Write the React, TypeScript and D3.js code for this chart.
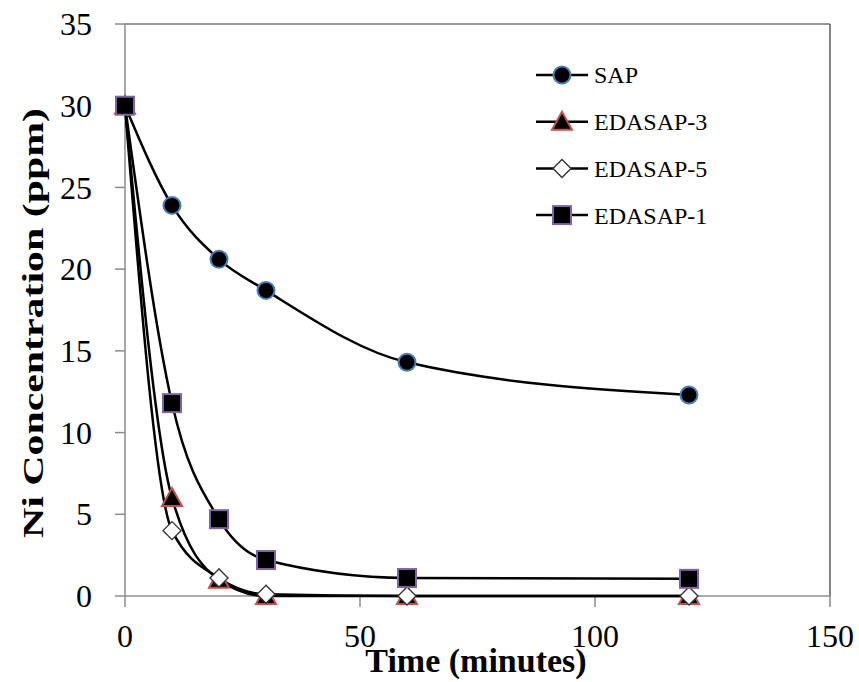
import React from "react";
import * as d3 from "d3";

const times = [0, 10, 20, 30, 60, 120];
const sap = [30, 23.9, 20.6, 18.7, 14.3, 12.3];
const edasap3 = [30, 6.0, 1.0, 0, 0, 0];
const edasap5 = [30, 4.0, 1.1, 0.1, 0, 0];
const edasap1 = [30, 11.8, 4.7, 2.2, 1.1, 1.05];

const xTicks = [0, 50, 100, 150];
const yTicks = [0, 5, 10, 15, 20, 25, 30, 35];

const W = 859;
const H = 682;
const FONT = "Liberation Serif, Times New Roman, serif";

const series = [
  { name: "SAP", values: sap, shape: "circle" },
  { name: "EDASAP-3", values: edasap3, shape: "triangle" },
  { name: "EDASAP-5", values: edasap5, shape: "diamond" },
  { name: "EDASAP-1", values: edasap1, shape: "square" },
];

function Marker({ shape, x, y }: { shape: string; x: number; y: number }) {
  if (shape === "circle")
    return <circle cx={x} cy={y} r={8.5} fill="#000" stroke="#4a7ebb" strokeWidth={2} />;
  if (shape === "square")
    return <rect x={x - 9} y={y - 9} width={18} height={18} fill="#000" stroke="#8064a2" strokeWidth={2} />;
  if (shape === "triangle") {
    const p = d3.path();
    p.moveTo(x, y - 10);
    p.lineTo(x + 10, y + 8);
    p.lineTo(x - 10, y + 8);
    p.closePath();
    return <path d={p.toString()} fill="#000" stroke="#c0504d" strokeWidth={2} />;
  }
  const p = d3.path();
  p.moveTo(x, y - 9);
  p.lineTo(x + 9, y);
  p.lineTo(x, y + 9);
  p.lineTo(x - 9, y);
  p.closePath();
  return <path d={p.toString()} fill="#fff" stroke="#333" strokeWidth={1.4} />;
}

export default function App() {
  const x = d3.scaleLinear().domain([0, 150]).range([125, 830]);
  const y = d3.scaleLinear().domain([0, 35]).range([596, 24]);
  const line = d3
    .line<number>()
    .x((_, i) => x(times[i]))
    .y((d) => y(d))
    .curve(d3.curveMonotoneX);

  return (
    <svg width={W} height={H} style={{ position: "absolute", left: 0, top: 0, fontFamily: FONT }}>
      <rect width={W} height={H} fill="#fff" />
      {/* frame */}
      <line x1={x(0)} x2={x(150)} y1={y(35)} y2={y(35)} stroke="#333" strokeWidth={1.2} />
      <line x1={x(150)} x2={x(150)} y1={y(35)} y2={y(0)} stroke="#333" strokeWidth={1.2} />
      <line x1={x(0)} x2={x(0)} y1={y(35)} y2={y(0)} stroke="#8c8c8c" strokeWidth={1.5} />
      <line x1={x(0)} x2={x(150)} y1={y(0)} y2={y(0)} stroke="#8c8c8c" strokeWidth={1.5} />
      {yTicks.map((t) => (
        <g key={"y" + t}>
          <line x1={x(0) - 10} x2={x(0)} y1={y(t)} y2={y(t)} stroke="#8c8c8c" strokeWidth={1.5} />
          <text x={92} y={y(t)} dy="0.35em" textAnchor="end" fontSize={32} fill="#000">
            {t}
          </text>
        </g>
      ))}
      {xTicks.map((t) => (
        <g key={"x" + t}>
          <line x1={x(t)} x2={x(t)} y1={y(0)} y2={y(0) + 11} stroke="#8c8c8c" strokeWidth={1.5} />
          <text x={x(t)} y={647} textAnchor="middle" fontSize={32} fill="#000">
            {t}
          </text>
        </g>
      ))}
      {series.map((s) => (
        <path key={s.name} d={line(s.values) || ""} fill="none" stroke="#000" strokeWidth={2.5} />
      ))}
      {series.map((s) =>
        s.values.map((v, i) => <Marker key={s.name + i} shape={s.shape} x={x(times[i])} y={y(v)} />)
      )}
      {/* legend */}
      {series.map((s, i) => {
        const ly = 75 + i * 46.7;
        return (
          <g key={"leg" + s.name}>
            <line x1={536} x2={588} y1={ly} y2={ly} stroke="#000" strokeWidth={2.5} />
            <Marker shape={s.shape} x={562} y={ly} />
            <text x={594} y={ly} dy="0.35em" fontSize={24} fill="#000">
              {s.name}
            </text>
          </g>
        );
      })}
      <text x={476} y={672} textAnchor="middle" fontSize={34} fontWeight="bold" fill="#000">
        Time (minutes)
      </text>
      <text
        transform={`translate(43,323) rotate(-90)`}
        textAnchor="middle"
        fontSize={30}
        fontWeight="bold"
        fill="#000"
        textLength={430}
        lengthAdjust="spacingAndGlyphs"
      >
        Ni Concentration (ppm)
      </text>
    </svg>
  );
}
